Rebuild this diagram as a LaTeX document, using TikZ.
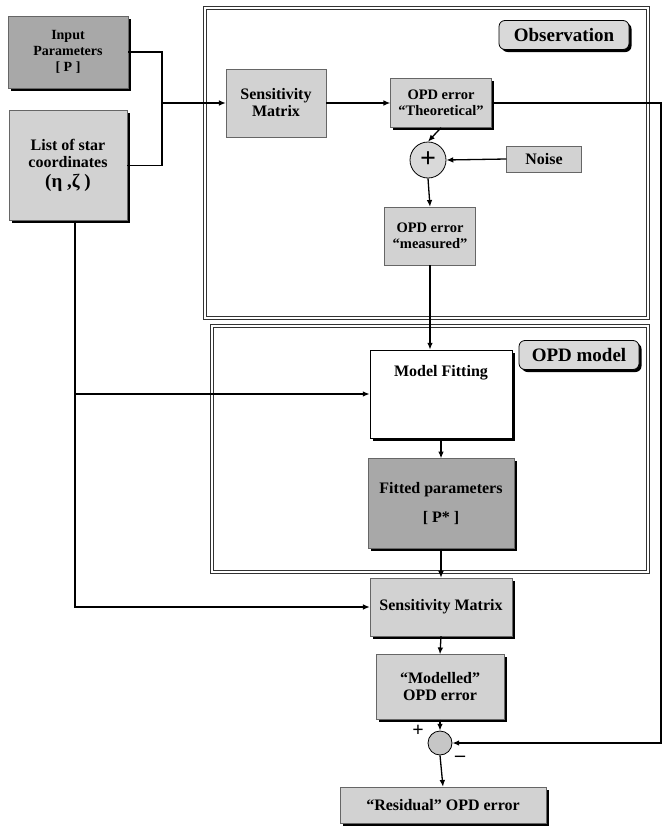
\documentclass[tikz,border=0pt]{standalone}
\usepackage{fontspec}
\setmainfont{Liberation Serif}
\usetikzlibrary{arrows.meta,positioning,shadows}
\tikzset{
  box/.style={
    rectangle,
    draw=black!60,
    align=center,
    inner sep=1pt,
    font=\fontsize{16}{17}\selectfont\bfseries
  },
  lightbox/.style={
    box,
    fill=gray!35
  },
  darkbox/.style={
    box,
    fill=gray!68
  },
  shade/.style={
    drop shadow={opacity=1, fill=black, shadow xshift=2.5pt, shadow yshift=-2.5pt}
  },
  tag/.style={
    rectangle,
    rounded corners=6pt,
    draw=black,
    thick,
    fill=gray!30,
    shade,
    inner sep=1pt,
    font=\fontsize{19}{20}\selectfont\bfseries
  },
  frame/.style={
    draw=black!80,
    double,
    double distance=2pt,
    line width=0.6pt
  },
  summer/.style={
    circle,
    draw=black,
    thick,
    fill=gray!30,
    inner sep=0pt
  },
  arrow/.style={
    -{Latex[length=2.4mm,width=2mm]},
    line width=1.3pt,
    draw=black
  },
  line/.style={
    line width=1.3pt,
    draw=black
  }
}

\begin{document}
\begin{tikzpicture}[x=1pt, y=-1pt, node distance=20pt and 20pt]
  \useasboundingbox (0,0) rectangle (666,827);

  % group frames
  \draw[frame] (205,8) rectangle (648,318);
  \draw[frame] (212,326) rectangle (648,572);

  \node[tag, minimum width=130pt, minimum height=29pt] (obstag) at (564,35) {Observation};
  \node[tag, minimum width=120pt, minimum height=29pt] (modtag) at (579,355) {OPD model};

  % inputs
  \node[darkbox, shade, minimum width=120pt, minimum height=72pt, font=\fontsize{14}{16}\selectfont\bfseries] (inpar) at (68,52) {Input\\Parameters\\{}[ P ]};
  \node[lightbox, shade, minimum width=118pt, minimum height=110pt, below=22pt of inpar] (stars) {List of star\\coordinates\\[3pt]\fontsize{19}{20}\selectfont(η ,ζ )};

  % observation
  \node[lightbox, minimum width=100pt, minimum height=68pt] (sens) at (276,103) {Sensitivity\\Matrix};
  \node[lightbox, shade, minimum width=101pt, minimum height=49pt, font=\fontsize{14.5}{16}\selectfont\bfseries] (theo) at (441,103) {OPD error\\“Theoretical”};
  \node[summer, minimum size=36pt, font=\fontsize{28}{28}\selectfont\bfseries] (plus) at (428,160) {+};
  \node[lightbox, minimum width=75pt, minimum height=26pt] (noise) at (544,159) {Noise};
  \node[lightbox, minimum width=91pt, minimum height=58pt, font=\fontsize{14.5}{16}\selectfont\bfseries] (meas) at (430,236) {OPD error\\“measured”};

  % model
  \node[box, draw=black, thick, fill=white, shade, minimum width=142pt, minimum height=88pt] (fitting) at (441,394) {Model Fitting\\[30pt]};
  \node[darkbox, shade, minimum width=146pt, minimum height=90pt, below=20pt of fitting] (fitted) {Fitted parameters\\[12pt]{}[ P* ]};

  % residual chain
  \node[lightbox, shade, minimum width=142pt, minimum height=58pt] (sens2) at (441,607) {Sensitivity Matrix};
  \node[lightbox, shade, minimum width=128pt, minimum height=65pt] (modelled) at (440,687) {“Modelled”\\OPD error};
  \node[summer, minimum size=24pt, fill=gray!45] (sum) at (440,743) {};
  \node[font=\fontsize{20}{20}\selectfont\bfseries] (pos) at (418,731) {+};
  \node[font=\fontsize{20}{20}\selectfont\bfseries] (neg) at (460,759) {--};
  \node[lightbox, shade, minimum width=206pt, minimum height=36pt] (resid) at (443,805) {“Residual” OPD error};

  \coordinate (join) at (162,103);
  \coordinate (drop) at (75,600);
  \coordinate (edge) at (661,0);

  \draw[line] (inpar.east) -| (join);
  \draw[line] (stars.east) -| (join);
  \draw[arrow] (join) -- (sens.west);
  \draw[arrow] (sens.east) -- (theo.west);
  \draw[arrow] (theo.south) -- (plus.north);
  \draw[arrow] (noise.west) -- (plus.east);
  \draw[arrow] (plus.south) -- (meas.north);
  \draw[arrow] (meas.south) -- (meas.south |- fitting.north);
  \draw[arrow] (stars.south -| drop) |- (sens2.west);
  \draw[arrow] (drop |- fitting.west) -- (fitting.west);
  \draw[arrow] (fitting.south) -- (fitted.north);
  \draw[arrow] (fitted.south) -- (sens2.north);
  \draw[arrow] (sens2.south) -- (modelled.north);
  \draw[arrow] (modelled.south) -- (sum.north);
  \draw[arrow] (theo.east) -- (theo.east -| edge) -- (edge |- sum.east) -- (sum.east);
  \draw[arrow] (sum.south) -- (resid.north);
\end{tikzpicture}
\end{document}
